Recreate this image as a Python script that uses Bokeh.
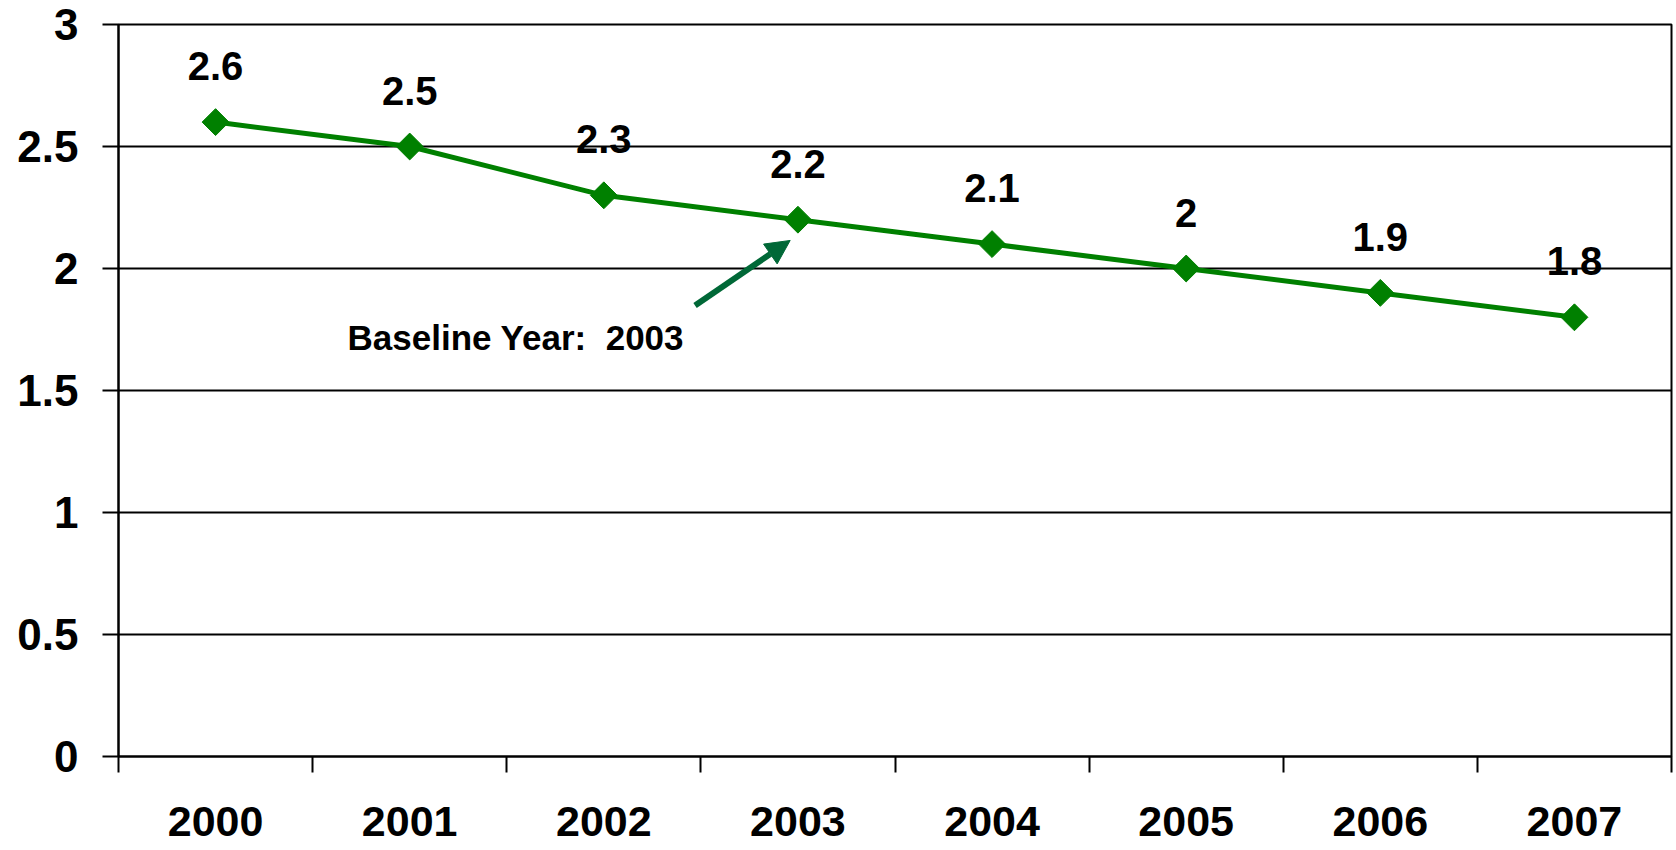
from bokeh.plotting import figure
from bokeh.models import FixedTicker, Range1d, Arrow, NormalHead, Label, ColumnDataSource
from bokeh.core.properties import value
from bokeh.embed import file_html
from bokeh.resources import INLINE

years = ["2000", "2001", "2002", "2003", "2004", "2005", "2006", "2007"]
rates = [2.6, 2.5, 2.3, 2.2, 2.1, 2.0, 1.9, 1.8]
rate_labels = ["2.6", "2.5", "2.3", "2.2", "2.1", "2", "1.9", "1.8"]
y_ticks = [0, 0.5, 1, 1.5, 2, 2.5, 3]
y_tick_labels = ["0", "0.5", "1", "1.5", "2", "2.5", "3"]
annotation_text = "Baseline Year:\u00a0 2003"

FONT = "Liberation Sans"
GREEN = "#008000"
ARROW_GREEN = "#006837"

xs = [i + 0.5 for i in range(len(years))]
src = ColumnDataSource(dict(x=xs, y=rates, lab=rate_labels))

p = figure(width=1676, height=850, output_backend="svg", toolbar_location=None,
           x_range=Range1d(0, len(years)), y_range=Range1d(0, 3),
           min_border_left=118, min_border_right=5, min_border_top=24, min_border_bottom=94)
p.background_fill_color = "white"
p.border_fill_color = "white"
p.outline_line_color = "black"
p.outline_line_width = 2

# x axis: labels at centers, ticks at category boundaries
xa = p.xaxis[0]
xa.ticker = FixedTicker(ticks=xs, minor_ticks=list(range(len(years) + 1)))
xa.major_label_overrides = {x: y for x, y in zip(xs, years)}
xa.major_tick_out = 0
xa.major_tick_in = 0
xa.minor_tick_out = 16
xa.minor_tick_in = 0
xa.minor_tick_line_color = "black"
xa.minor_tick_line_width = 2
xa.axis_line_color = "black"
xa.axis_line_width = 2
xa.major_label_text_font = FONT
xa.major_label_text_font_style = "bold"
xa.major_label_text_font_size = "43px"
xa.major_label_text_color = "black"
xa.major_label_standoff = 34

ya = p.yaxis[0]
ya.ticker = FixedTicker(ticks=y_ticks, minor_ticks=[])
ya.major_label_overrides = {t: s for t, s in zip(y_ticks, y_tick_labels)}
ya.major_tick_out = 16
ya.major_tick_in = 0
ya.major_tick_line_color = "black"
ya.major_tick_line_width = 2
ya.minor_tick_line_color = None
ya.axis_line_color = "black"
ya.axis_line_width = 2
ya.major_label_text_font = FONT
ya.major_label_text_font_style = "bold"
ya.major_label_text_font_size = "44px"
ya.major_label_text_color = "black"
ya.major_label_standoff = 24

p.xgrid.grid_line_color = None
p.ygrid.ticker = FixedTicker(ticks=y_ticks)
p.ygrid.grid_line_color = "black"
p.ygrid.grid_line_width = 2
p.ygrid.grid_line_alpha = 1

p.line("x", "y", source=src, line_color=GREEN, line_width=5)
p.scatter("x", "y", source=src, marker="square", size=19, angle=0.785398,
          fill_color=GREEN, line_color=GREEN)

p.text("x", "y", text="lab", source=src, text_align="center", text_baseline="middle",
       y_offset=-56, text_font=value(FONT), text_font_style="bold",
       text_font_size="40px", text_color="black")

p.add_layout(Arrow(end=NormalHead(size=24, fill_color=ARROW_GREEN, line_color=ARROW_GREEN),
                   x_start=2.97, y_start=1.848, x_end=3.46, y_end=2.115,
                   line_color=ARROW_GREEN, line_width=6))
p.add_layout(Label(x=1.18, y=1.717, text=annotation_text, text_baseline="middle",
                   text_font=FONT, text_font_style="bold", text_font_size="35px",
                   text_color="black"))

open("out.html", "w").write(file_html(p, INLINE))
